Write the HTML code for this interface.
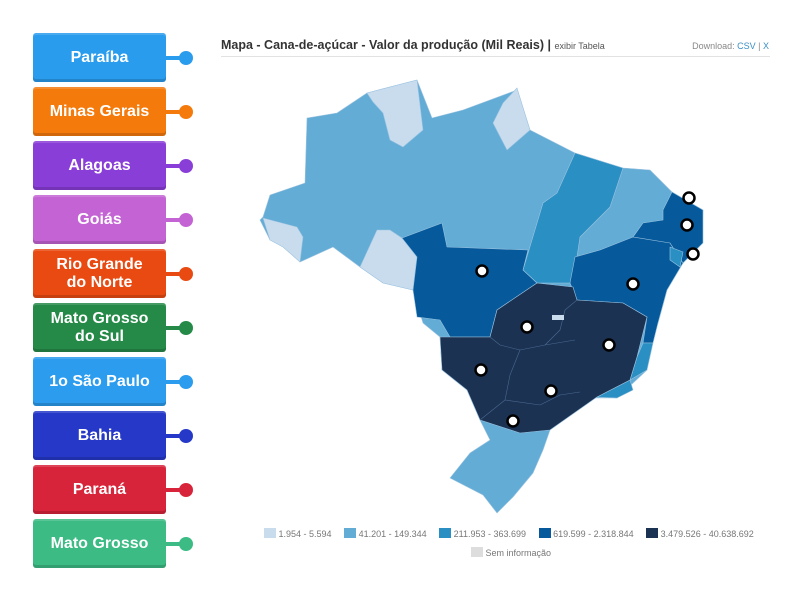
<!DOCTYPE html>
<html><head><meta charset="utf-8"><style>
body{margin:0;width:800px;height:600px;background:#fff;font-family:"Liberation Sans",sans-serif;position:relative;overflow:hidden}
.btn{position:absolute;left:33px;width:133px;height:49px;border-radius:3px;color:#fff;font-weight:bold;font-size:16px;line-height:18px;display:flex;align-items:center;justify-content:center;text-align:center;box-shadow:inset 0 -3px 0 rgba(0,0,0,0.15),inset 0 2px 0 rgba(255,255,255,0.15)}
.ln{position:absolute;left:166px;width:16px;height:4px}
.dot{position:absolute;left:179px;width:14px;height:14px;border-radius:50%}
</style></head><body>
<div id="btns"></div>
<div style="position:absolute;left:221px;top:38px;font-size:12.5px;font-weight:bold;color:#333">Mapa - Cana-de-açúcar - Valor da produção (Mil Reais) | <span style="font-weight:normal;font-size:9px;color:#555">exibir Tabela</span></div>
<div style="position:absolute;right:31px;top:41px;font-size:9px;color:#888">Download: <span style="color:#3a8fc8">CSV</span> | <span style="color:#3a8fc8">X</span></div>
<div style="position:absolute;left:221px;top:56px;width:549px;height:1px;background:#e2e2e2"></div>
<svg id="map" width="800" height="600" style="position:absolute;left:0;top:0">
<g stroke="#9cc3e0" stroke-width="0.6" stroke-linejoin="round">
<polygon fill="#62acd6" points="263,217 270,195 305,183 307,118 337,113 367,93 417,80 432,118 463,110 517,90 530,130 575,153 623,168 650,170 672,192 703,210 702,243 683,263 667,290 658,323 650,343 647,370 617,398 593,398 550,430 543,450 533,473 513,497 497,513 483,495 450,478 470,453 490,440 480,420 467,390 442,370 440,337 423,323 413,290 383,283 360,267 333,247 300,262 297,240 270,240 260,220"/>
<polygon fill="#c8dcee" points="367,93 417,80 423,130 403,147 390,140 383,113 373,102"/>
<polygon fill="#c8dcee" points="503,103 517,88 530,130 507,150 493,123"/>
<polygon fill="#c8dcee" points="263,218 297,227 303,237 300,262 283,247 270,240"/>
<polygon fill="#c8dcee" points="360,267 377,230 390,230 402,238 417,257 413,290 383,283"/>
<polygon fill="#2a8fc2" points="575,153 623,168 610,207 580,237 575,270 570,283 537,283 523,270 543,203 557,193"/>
<polygon fill="#065a9b" points="402,238 442,223 447,247 528,250 523,270 537,283 497,310 490,337 450,337 440,320 417,317 413,290 417,257"/>
<polygon fill="#065a9b" points="575,257 600,250 633,237 663,237 670,243 683,263 667,290 658,323 653,343 643,343 647,317 623,303 577,300 570,283"/>
<polygon fill="#065a9b" points="663,210 672,192 703,210 703,243 683,263 670,243 633,237 643,223 663,220"/>
<polygon fill="#2a8fc2" points="670,247 683,252 680,267 670,260"/>
<polygon fill="#2a8fc2" points="643,343 653,343 647,370 630,380 637,357"/>
<polygon fill="#2a8fc2" points="597,397 630,380 633,390 617,398"/>
<polygon fill="#1b3253" points="497,310 537,283 573,287 577,300 623,303 647,317 637,357 630,380 597,397 550,430 520,433 480,420 467,390 442,370 440,337 450,337 490,337"/>
<polyline fill="none" stroke="#4a6a90" points="490,337 500,345 520,350 545,345 575,340"/>
<polyline fill="none" stroke="#4a6a90" points="520,350 510,375 505,400 480,420"/>
<polyline fill="none" stroke="#4a6a90" points="505,400 540,405 560,395 580,392"/>
<polyline fill="none" stroke="#4a6a90" points="545,345 560,330 565,310 577,300"/>
</g>
<rect x="552" y="315" width="12" height="5" fill="#c8dcee"/>
<g id="markers"></g>
</svg>
<div style="position:absolute;left:264px;top:528px;font-size:9px;color:#777;white-space:nowrap">
<span><i style="display:inline-block;width:12px;height:10px;background:#c8dcee;vertical-align:-1px"></i> 1.954 - 5.594</span>
<span style="margin-left:10px"><i style="display:inline-block;width:12px;height:10px;background:#62acd6;vertical-align:-1px"></i> 41.201 - 149.344</span>
<span style="margin-left:10px"><i style="display:inline-block;width:12px;height:10px;background:#2a8fc2;vertical-align:-1px"></i> 211.953 - 363.699</span>
<span style="margin-left:10px"><i style="display:inline-block;width:12px;height:10px;background:#065a9b;vertical-align:-1px"></i> 619.599 - 2.318.844</span>
<span style="margin-left:10px"><i style="display:inline-block;width:12px;height:10px;background:#1b3253;vertical-align:-1px"></i> 3.479.526 - 40.638.692</span>
</div>
<div style="position:absolute;left:471px;top:547px;font-size:9px;color:#777"><i style="display:inline-block;width:12px;height:10px;background:#ddd;vertical-align:-1px"></i> Sem informação</div>
<script>
const labels=["Paraíba","Minas Gerais","Alagoas","Goiás","Rio Grande do Norte","Mato Grosso do Sul","1o São Paulo","Bahia","Paraná","Mato Grosso"];
const colors=["#2a9cee","#f57a0c","#8a3ed8","#c464d4","#e84a12","#258a48","#2b9cee","#2638c8","#d8243a","#3cbb84"];
const markerX=[689,687,693,482,633,527,609,481,551,513];
const markerY=[198,225,254,271,284,327,345,370,391,421];
const b=document.getElementById('btns');
labels.forEach((t,i)=>{
  const top=33+i*54;
  const d=document.createElement('div');d.className='btn';d.style.top=top+'px';d.style.background=colors[i];
  d.innerHTML=t==="Rio Grande do Norte"?"Rio Grande<br>do Norte":(t==="Mato Grosso do Sul"?"Mato Grosso<br>do Sul":t);
  
  
  b.appendChild(d);
  const l=document.createElement('div');l.className='ln';l.style.top=(top+23)+'px';l.style.background=colors[i];
  
  
  b.appendChild(l);
  const o=document.createElement('div');o.className='dot';o.style.top=(top+18)+'px';o.style.background=colors[i];
  
  
  b.appendChild(o);
});
const g=document.getElementById('markers');
markerX.forEach((x,i)=>{
  const c=document.createElementNS('http://www.w3.org/2000/svg','circle');
  c.setAttribute('cx',x);c.setAttribute('cy',markerY[i]);c.setAttribute('r',5.5);
  c.setAttribute('fill','#fff');c.setAttribute('stroke','#000');c.setAttribute('stroke-width',2.5);
  
  
  g.appendChild(c);
});
</script>
</body></html>
